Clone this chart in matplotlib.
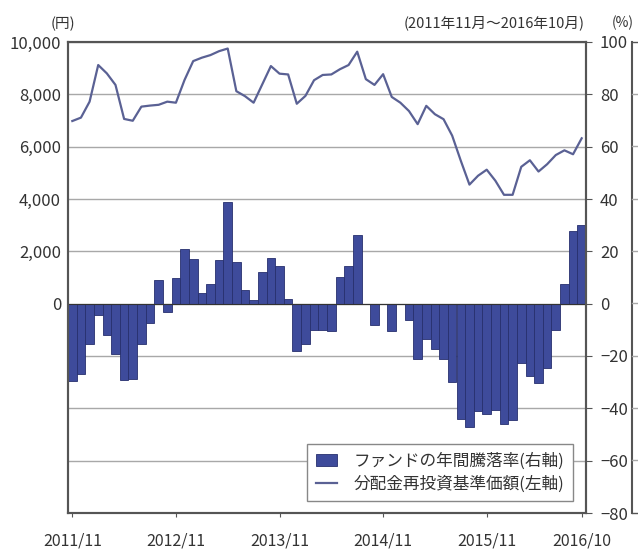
import matplotlib
matplotlib.use("Agg")
import matplotlib.pyplot as plt
from matplotlib.lines import Line2D
from matplotlib.patches import Patch
from matplotlib.ticker import FuncFormatter
import numpy as np

plt.rcParams['font.family'] = ['Noto Sans CJK JP', 'DejaVu Sans']

# Monthly data 2011/11 .. 2016/10 (60 months)
annual_return_pct = [
    -29.5, -26.7, -15.6, -4.5, -12.1, -19.4, -29.0, -28.6, -15.3, -7.4,
    9.2, -3.2, 9.9, 21.0, 16.9, 4.0, 7.6, 16.5, 38.8, 15.9,
    5.3, 1.3, 12.1, 17.4, 14.5, 1.9, -18.2, -15.6, -10.0, -10.0,
    -10.3, 10.2, 14.5, 26.3, -0.3, -8.0, -0.3, -10.4, -0.3, -6.3,
    -21.3, -13.6, -17.2, -21.0, -29.9, -43.9, -47.3, -41.0, -42.0, -40.7,
    -45.8, -44.3, -22.7, -27.7, -30.3, -24.6, -9.9, 7.5, 27.7, 29.9,
]
nav_reinvested_yen = [
    6980, 7110, 7720, 9120, 8800, 8360, 7060, 6990, 7530, 7570,
    7600, 7720, 7680, 8550, 9270, 9400, 9500, 9650, 9750, 8120,
    7930, 7680, 8380, 9080, 8790, 8760, 7640, 7940, 8540, 8740,
    8760, 8960, 9120, 9630, 8580, 8360, 8770, 7900, 7680, 7360,
    6860, 7560, 7240, 7050, 6420, 5460, 4550, 4890, 5120, 4700,
    4160, 4160, 5230, 5480, 5050, 5330, 5680, 5860, 5710, 6320,
]
x_tick_labels = ["2011/11", "2012/11", "2013/11", "2014/11", "2015/11", "2016/10"]
x_tick_index = [0, 12, 24, 36, 48, 59]
left_ticks = [0, 2000, 4000, 6000, 8000, 10000]
right_ticks = [-80, -60, -40, -20, 0, 20, 40, 60, 80, 100]
legend_labels = ["ファンドの年間騰落率(右軸)", "分配金再投資基準価額(左軸)"]

bar_color = "#3e4b9b"
bar_edge = "#27306e"
line_color = "#5a6194"
grid_color = "#a8a8a8"
spine_color = "#555555"
text_color = "#333333"

fig = plt.figure(figsize=(6.38, 5.53), dpi=100)
W, H = 638, 553
L, R, T, B = 68, 586, 42, 513
ax = fig.add_axes([L / W, 1 - B / H, (R - L) / W, (B - T) / H])
ax2 = ax.twinx()

x = np.arange(len(annual_return_pct))

# bars on ax (percent, displayed on right)
ax.bar(x, annual_return_pct, width=1.0, color=bar_color, edgecolor=bar_edge, linewidth=0.6, zorder=2)
ax.set_ylim(-80, 100)
ax.set_xlim(-0.5, len(x) - 0.5)
ax.set_yticks(right_ticks)
ax.yaxis.tick_right()
ax.yaxis.set_label_position("right")
ax.grid(axis='y', color=grid_color, linewidth=1.0, zorder=0)
ax.set_axisbelow(True)
ax.axhline(0, color="#333333", linewidth=0.8, zorder=3)

# line on ax2 (yen, displayed on left)
ax2.plot(x, nav_reinvested_yen, color=line_color, linewidth=1.6, zorder=4)
ax2.set_ylim(-8000, 10000)
ax2.set_yticks(left_ticks)
ax2.yaxis.tick_left()
ax2.yaxis.set_major_formatter(FuncFormatter(lambda v, p: f"{int(v):,}"))

ax.set_xticks(x_tick_index)
ax.set_xticklabels(x_tick_labels)

for a in (ax, ax2):
    for s in a.spines.values():
        s.set_color(spine_color)
        s.set_linewidth(1.5)

ax.tick_params(axis='y', which='both', direction='out', length=4, color=spine_color,
               labelsize=12, labelcolor=text_color, pad=6)
ax2.tick_params(axis='y', which='both', length=0, labelsize=12, labelcolor=text_color, pad=5)
ax.tick_params(axis='x', direction='out', length=3, color=spine_color,
               labelsize=11.5, labelcolor=text_color, pad=11)
ax2.tick_params(axis='x', length=0)

# unit / period annotations
fig.text(63 / W, 1 - 24 / H, "(円)", ha='center', va='center', fontsize=10.5, color=text_color)
fig.text(585 / W, 1 - 23 / H, "(2011年11月～2016年10月)", ha='right', va='center', fontsize=10.5, color=text_color)
fig.text(612 / W, 1 - 23 / H, "(%)", ha='left', va='center', fontsize=10, color=text_color)

# edge of neighbouring chart frame at the far right
fig.add_artist(Line2D([632 / W, 632 / W], [1 - T / H, 1 - B / H], color=spine_color, linewidth=1.5))
for yv in right_ticks:
    yp = 1 - (303.3 - yv * 2.6167) / H
    fig.add_artist(Line2D([632 / W, 1.0], [yp, yp], color=grid_color if yv not in (100, -80) else spine_color,
                          linewidth=1.0))

handles = [Patch(facecolor=bar_color, edgecolor=bar_edge, linewidth=0.6),
           Line2D([0], [0], color=line_color, linewidth=1.6)]
leg = ax2.legend(handles, legend_labels, loc='lower right', bbox_to_anchor=(0.975, 0.025),
                 borderaxespad=0, fancybox=False, framealpha=1, edgecolor="#888888",
                 fontsize=12, handlelength=1.3, handleheight=0.8, handletextpad=1.0,
                 labelspacing=0.35, borderpad=0.5, labelcolor=text_color)
leg.get_frame().set_linewidth(1.0)

fig.savefig("out.png", dpi=100)
